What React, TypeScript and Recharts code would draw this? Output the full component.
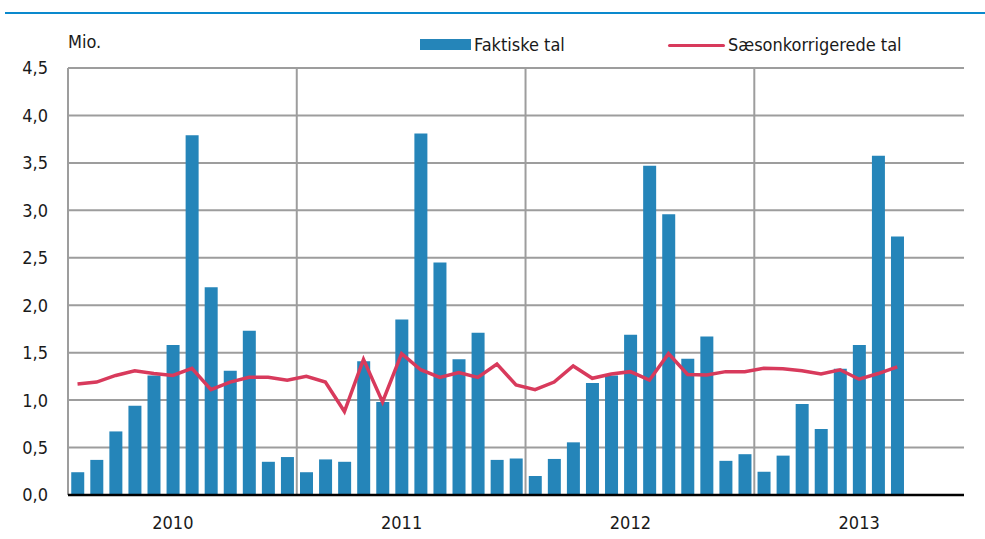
import { Bar, CartesianGrid, ComposedChart, Line, XAxis, YAxis } from "recharts";

const FONT = "'Liberation Sans Narrow', 'DejaVu Sans Condensed', 'Noto Sans', sans-serif";

// Jan 2010 .. Nov 2013 (last three months empty)
const years = [2010, 2011, 2012, 2013];
const months = years.flatMap((y) =>
  Array.from({ length: 12 }, (_, m) => `${y}-${String(m + 1).padStart(2, "0")}`)
).slice(0, 47);

const faktiske = [
  0.24, 0.37, 0.67, 0.94, 1.26, 1.58, 3.79, 2.19, 1.31, 1.73, 0.35, 0.4,
  0.24, 0.375, 0.35, 1.41, 0.98, 1.85, 3.81, 2.45, 1.43, 1.71, 0.37, 0.385,
  0.2, 0.38, 0.555, 1.18, 1.26, 1.69, 3.47, 2.96, 1.435, 1.67, 0.36, 0.43,
  0.245, 0.415, 0.96, 0.695, 1.33, 1.58, 3.575, 2.725,
];

const saesonkorr = [
  1.17, 1.19, 1.26, 1.31, 1.28, 1.26, 1.335, 1.11, 1.19, 1.24, 1.24, 1.21,
  1.25, 1.19, 0.88, 1.43, 0.98, 1.49, 1.32, 1.24, 1.29, 1.24, 1.38, 1.16,
  1.11, 1.19, 1.36, 1.23, 1.275, 1.3, 1.21, 1.49, 1.27, 1.265, 1.3, 1.3,
  1.335, 1.33, 1.31, 1.275, 1.32, 1.22, 1.28, 1.35,
];

const yTicks = [0, 0.5, 1, 1.5, 2, 2.5, 3, 3.5, 4, 4.5];

const data = months.map((m, i) => ({
  month: m,
  faktiske: faktiske[i] ?? null,
  saeson: saesonkorr[i] ?? null,
}));

export default function App() {
  return (
    <div
      style={{
        position: "absolute",
        left: 0,
        top: 0,
        width: 985,
        height: 539,
        background: "#fff",
        fontFamily: FONT,
        color: "#1a1a1a",
      }}
    >
      <div style={{ position: "absolute", left: 5, top: 11.5, width: 980, height: 2, background: "#0a89cd" }} />
      <div style={{ position: "absolute", left: 68, top: 33, fontSize: 18, lineHeight: "18px" }}>Mio.</div>

      {/* legend */}
      <div style={{ position: "absolute", left: 420, top: 39, width: 51, height: 11, background: "#2585b9" }} />
      <div style={{ position: "absolute", left: 474, top: 36, fontSize: 18, lineHeight: "18px" }}>Faktiske tal</div>
      <div style={{ position: "absolute", left: 668, top: 43.5, width: 57, height: 3.5, borderRadius: 2, background: "#d83a5c" }} />
      <div style={{ position: "absolute", left: 728, top: 36, fontSize: 18, lineHeight: "18px" }}>Sæsonkorrigerede tal</div>

      <ComposedChart
        width={985}
        height={539}
        data={data}
        margin={{ top: 68, right: 21, bottom: 0, left: 0 }}
        barCategoryGap="17%"
        style={{ position: "absolute", left: 0, top: 0 }}
      >
        <CartesianGrid
          stroke="#9d9d9d"
          strokeWidth={2}
          verticalCoordinatesGenerator={({ offset }: any) =>
            [0, 12, 24, 36].map((k) => offset.left + (offset.width * k) / months.length)
          }
        />
        <XAxis
          dataKey="month"
          interval={0}
          tickLine={false}
          tickSize={0}
          tickMargin={21}
          height={44}
          axisLine={{ stroke: "#000", strokeWidth: 2.5 }}
          tick={{ fill: "#1a1a1a", fontSize: 18, fontFamily: FONT }}
          tickFormatter={(v: string) => (v.endsWith("-06") ? v.slice(0, 4) : "")}
        />
        <YAxis
          domain={[0, 4.5]}
          ticks={yTicks}
          width={68}
          axisLine={false}
          tickLine={false}
          tickSize={0}
          tickMargin={20}
          tick={{ fill: "#1a1a1a", fontSize: 18, fontFamily: FONT }}
          tickFormatter={(v: number) => v.toFixed(1).replace(".", ",")}
        />
        <Bar dataKey="faktiske" fill="#2585b9" isAnimationActive={false} />
        <Line
          dataKey="saeson"
          type="linear"
          stroke="#d83a5c"
          strokeWidth={3.5}
          dot={false}
          activeDot={false}
          isAnimationActive={false}
        />
      </ComposedChart>
    </div>
  );
}
